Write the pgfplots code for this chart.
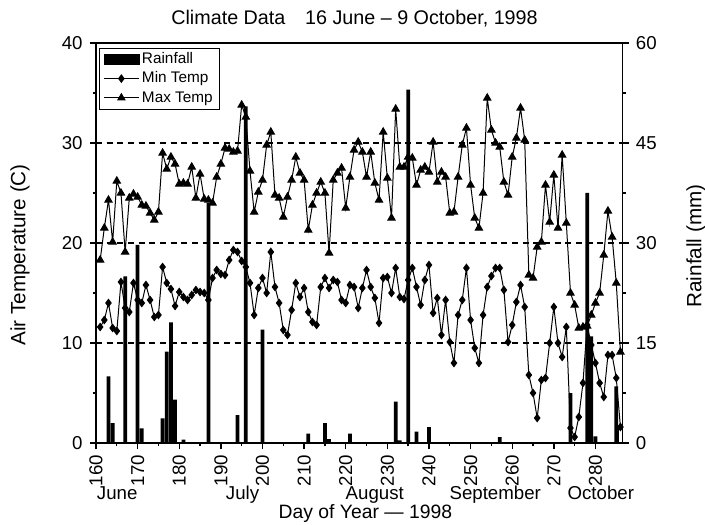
\documentclass[border=0pt]{standalone}
\usepackage{fontspec}
\setmainfont{Liberation Sans}
\usepackage{pgfplots}
\usepackage{pgfplotstable}
\pgfplotsset{compat=1.18}

% daily values
\pgfplotstableread{
day rain
163 10.0
164 3.0
167 25.0
170 29.7
171 2.2
176 3.7
177 13.7
178 18.1
179 6.5
181 0.5
187 36.0
194 4.2
196 50.5
200 17.0
211 1.4
215 3.0
216 0.6
221 1.4
232 6.2
233 0.4
235 53.0
237 1.7
240 2.4
257 0.9
274 7.5
278 37.5
279 16.0
280 1.0
285 8.5
}\rain

\pgfplotstableread{
day tmin tmax
161 11.6 18.3
162 12.3 21.5
163 14.0 24.3
164 11.5 20.1
165 11.2 26.2
166 16.1 25.0
167 13.5 19.1
168 13.1 24.5
169 16.0 24.9
170 14.3 24.6
171 14.0 23.8
172 15.8 23.7
173 14.3 23.0
174 12.6 22.3
175 12.8 23.1
176 17.6 29.0
177 16.0 27.4
178 15.4 28.6
179 13.7 27.9
180 15.1 25.9
181 14.6 26.0
182 14.3 25.9
183 14.8 27.6
184 15.3 24.5
185 15.1 26.9
186 15.0 24.4
187 14.3 24.3
188 16.5 24.0
189 17.3 26.6
190 16.9 27.9
191 16.8 29.5
192 18.3 29.4
193 19.3 29.1
194 19.1 29.2
195 18.2 33.8
196 17.6 32.6
197 16.0 27.2
198 12.8 23.1
199 15.5 25.1
200 16.5 26.3
201 15.0 29.8
202 19.1 31.1
203 15.6 24.8
204 14.0 24.5
205 11.3 22.6
206 10.8 24.6
207 13.3 26.3
208 16.0 28.6
209 14.6 27.0
210 15.5 26.3
211 13.1 21.3
212 12.1 23.8
213 11.8 25.0
214 15.6 26.1
215 16.5 25.0
216 15.5 19.0
217 16.3 26.3
218 16.1 27.0
219 14.3 27.5
220 14.0 23.5
221 15.8 26.6
222 15.6 29.3
223 13.5 30.1
224 15.5 29.1
225 17.3 26.6
226 15.6 29.1
227 14.5 26.0
228 12.0 24.3
229 16.5 31.1
230 16.6 26.5
231 15.0 22.5
232 17.5 33.4
233 14.6 27.6
234 14.4 27.6
235 16.3 28.6
236 17.5 28.5
237 15.6 25.8
238 13.8 27.3
239 16.3 27.6
240 17.8 27.1
241 13.0 30.1
242 14.5 26.1
243 10.8 27.1
244 14.3 26.6
245 10.1 23.0
246 8.0 23.1
247 12.8 26.6
248 14.3 29.8
249 17.5 31.5
250 12.3 25.8
251 9.5 22.5
252 8.0 21.5
253 12.8 25.0
254 15.6 34.5
255 16.7 31.3
256 17.5 30.0
257 17.5 29.6
258 15.3 26.1
259 10.1 24.8
260 11.8 28.6
261 14.1 30.5
262 15.8 33.5
263 13.6 30.3
264 6.8 16.8
265 5.0 16.5
266 2.5 19.6
267 6.3 20.1
268 6.5 25.8
269 10.0 22.1
270 13.6 26.8
271 10.0 21.5
272 8.6 28.8
273 11.6 22.0
274 1.5 15.0
275 0.6 13.8
276 2.6 11.5
277 6.0 11.6
278 11.8 11.7
279 9.8 12.8
280 8.0 14.0
281 6.0 15.0
282 4.6 18.8
283 8.8 23.2
284 8.8 20.6
285 6.5 16.0
286 1.6 9.1
}\temps

\newcommand\ticksize{\fontsize{14}{16}\selectfont}
\newcommand\labsize{\fontsize{15.5}{17}\selectfont}

\pgfplotsset{
  common/.style={
    at={(0,0)}, anchor=south west,
    width=394.875pt, height=300pt, scale only axis,
    xmin=160, xmax=286.5,
    tick align=outside,
    major tick length=4.5pt, minor tick length=2.5pt,
    every tick/.style={black, line width=1pt},
    axis line style={line width=1.1pt},
    tick label style={font=\ticksize},
    /pgf/number format/assume math mode=true,
  },
}

\begin{document}
\begin{tikzpicture}
% rainfall, right axis
\begin{axis}[common,
  axis x line=none, axis y line*=right,
  ymin=0, ymax=60,
  ytick={0,15,30,45,60},
  minor ytick={7.5,22.5,37.5,52.5},
  yticklabel style={xshift=2pt},
]
\addplot[ybar, bar width=0.9, bar shift=0pt, fill=black, draw=none] table[x=day, y=rain] {\rain};
\addplot[ybar, bar width=0.9, bar shift=0pt, fill=white, draw=black, line width=0.6pt, forget plot] coordinates {(286,2.5)};
\end{axis}

% temperature, left axis
\begin{axis}[common,
  clip=false,
  ymin=0, ymax=40,
  ytick={0,10,20,30,40},
  minor y tick num=1,
  xtick={160,170,...,280},
  minor x tick num=1,
  xtick pos=bottom, ytick pos=left,
  xticklabel style={rotate=90, anchor=east, xshift=-1pt},
  yticklabel style={xshift=-2pt},
  ymajorgrids,
  grid style={black, line width=0.9pt, dash pattern=on 4.5pt off 3.5pt},
  legend style={at={(0.006,0.9875)}, anchor=north west, draw=black, thin,
    fill=white, font=\fontsize{11.5}{12}\selectfont,
    nodes={text height=8.5pt, text depth=2pt, inner ysep=2pt},
    cells={anchor=west}, row sep=0pt, inner xsep=3pt, inner ysep=1pt},
  legend image code/.code={%
    \draw[mark repeat=2, mark phase=2, #1] plot coordinates {(0cm,0cm) (0.46cm,0cm) (0.92cm,0cm)};},
]
\addlegendimage{legend image code/.code={\fill[black] (0cm,-0.12cm) rectangle (0.92cm,0.12cm);}}
\addlegendentry{Rainfall}
\addplot[black, line width=0.75pt, mark=diamond*, mark size=2.7pt, mark options={solid}] table[x=day, y=tmin] {\temps};
\addlegendentry{Min Temp}
\addplot[black, line width=0.75pt, mark=triangle*, mark size=3.1pt, mark options={solid}] table[x=day, y=tmax] {\temps};
\addlegendentry{Max Temp}
\end{axis}

% titles and labels
\node[anchor=base, font=\fontsize{14.8}{16}\selectfont] at (193.9pt,313.5pt) {Climate Data\hspace{1em}16 June – 9 October, 1998};
\node[rotate=90, font=\labsize] at (-57pt,141pt) {Air Temperature (C)};
\node[rotate=90, font=\labsize] at (450pt,147.75pt) {Rainfall (mm)};
\node[anchor=base, font=\ticksize] at (15.9pt,-42pt) {June};
\node[anchor=base, font=\ticksize] at (109.9pt,-42pt) {July};
\node[anchor=base, font=\ticksize] at (209.1pt,-42pt) {August};
\node[anchor=base, font=\ticksize] at (299.4pt,-42pt) {September};
\node[anchor=base, font=\ticksize] at (378.6pt,-42pt) {October};
\node[anchor=base, font=\fontsize{14.5}{16}\selectfont] at (202pt,-56.3pt) {Day of Year — 1998};

\pgfresetboundingbox
\path[use as bounding box] (-72pt,-60.75pt) rectangle (456.75pt,332.25pt);
\end{tikzpicture}
\end{document}
